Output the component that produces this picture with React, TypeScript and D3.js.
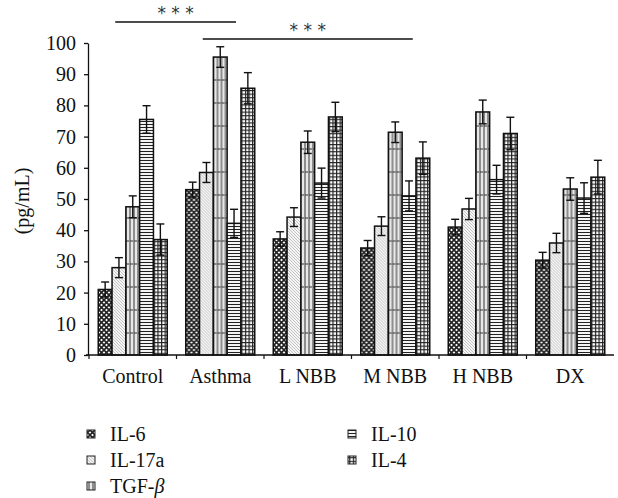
import React, { useEffect, useRef } from 'react';
import * as d3 from 'd3';

const categories = ['Control', 'Asthma', 'L NBB', 'M NBB', 'H NBB', 'DX'];
const seriesNames = ['IL-6', 'IL-17a', 'TGF-β', 'IL-10', 'IL-4'];

// means per series, in category order
const il6 = [21, 53, 37.2, 34.3, 41, 30.4];
const il17a = [28, 58.5, 44.2, 41.3, 46.8, 35.9];
const tgfb = [47.5, 95.5, 68.2, 71.4, 77.9, 53.2];
const il10 = [75.5, 42.2, 55.1, 51, 56.2, 50.3];
const il4 = [37, 85.5, 76.3, 63.1, 71, 57];

// error (±)
const il6Err = [2.4, 2.4, 2.3, 2.4, 2.5, 2.5];
const il17aErr = [3.2, 3.2, 3, 3, 3.4, 3.1];
const tgfbErr = [3.5, 3.3, 3.6, 3.3, 3.8, 3.6];
const il10Err = [4.4, 4.5, 4.8, 4.8, 4.6, 4.9];
const il4Err = [5, 5, 4.7, 5.2, 5.2, 5.4];

const yTicks = [0, 10, 20, 30, 40, 50, 60, 70, 80, 90, 100];

// significance brackets: [from category, to category, label]
const sigPairs: [string, string, string][] = [
  ['Control', 'Asthma', '* * *'],
  ['Asthma', 'M NBB', '* * *'],
];

const FONT = '"Liberation Serif", "Times New Roman", serif';

const App = () => {
  const ref = useRef<SVGSVGElement>(null);

  useEffect(() => {
    const svg = d3.select(ref.current);
    svg.selectAll('*').remove();

    const margin = { top: 43, left: 89, right: 4, bottom: 143 };
    const width = 618;
    const height = 498;
    const y0 = height - margin.bottom;

    const means = [il6, il17a, tgfb, il10, il4];
    const errs = [il6Err, il17aErr, tgfbErr, il10Err, il4Err];

    const x0 = d3.scaleBand().domain(categories).range([margin.left, width - margin.right]).padding(0);
    const x1 = d3.scaleBand().domain(seriesNames).range([0, x0.bandwidth()]).paddingInner(0).paddingOuter(0.67);
    const y = d3.scaleLinear().domain([0, 100]).range([y0, margin.top]);

    // patterns
    const defs = svg.append('defs');
    const mk = (id: string, size: number, bg: string) => {
      const p = defs.append('pattern').attr('id', id).attr('patternUnits', 'userSpaceOnUse')
        .attr('width', size).attr('height', size);
      p.append('rect').attr('width', size).attr('height', size).attr('fill', bg);
      return p;
    };
    // IL-6 diamond cross
    const p0 = mk('pat0', 5, '#fff');
    p0.append('path').attr('d', 'M0,0L5,5M5,0L0,5').attr('stroke', '#222').attr('stroke-width', 1.6);
    // IL-17a light diagonal
    const p1 = mk('pat1', 3, '#f4f4f4');
    p1.append('path').attr('d', 'M0,0L3,3M-1,2L1,4M2,-1L4,1').attr('stroke', '#b0b0b0').attr('stroke-width', 0.7);
    // TGF-b vertical lines with dashes
    const p2 = defs.append('pattern').attr('id', 'pat2').attr('patternUnits', 'userSpaceOnUse')
      .attr('width', 4).attr('height', 23);
    p2.append('rect').attr('width', 4).attr('height', 23).attr('fill', '#e8e8e8');
    p2.append('path').attr('d', 'M1,0V23').attr('stroke', '#333').attr('stroke-width', 1);
    p2.append('path').attr('d', 'M1,11H4').attr('stroke', '#333').attr('stroke-width', 1);
    // IL-10 horizontal lines
    const p3 = mk('pat3', 3, '#fff');
    p3.append('path').attr('d', 'M0,1.5H3').attr('stroke', '#222').attr('stroke-width', 1.1);
    // IL-4 grid
    const p4 = mk('pat4', 3.6, '#fff');
    p4.append('path').attr('d', 'M0,0.6H3.6M0.6,0V3.6').attr('stroke', '#222').attr('stroke-width', 1.2);

    // bars
    const groups = svg.append('g').selectAll('g').data(categories).join('g')
      .attr('transform', (d) => `translate(${x0(d)},0)`);

    seriesNames.forEach((s, si) => {
      groups.append('rect')
        .attr('x', () => x1(s)!)
        .attr('y', (_, ci) => y(means[si][ci]))
        .attr('width', x1.bandwidth())
        .attr('height', (_, ci) => y0 - y(means[si][ci]))
        .attr('fill', `url(#pat${si})`)
        .attr('stroke', '#111')
        .attr('stroke-width', 1.5);
    });

    // error bars
    seriesNames.forEach((s, si) => {
      const cx = x1(s)! + x1.bandwidth() / 2;
      const eb = groups.append('g').attr('stroke', '#111').attr('stroke-width', 1.4);
      eb.append('line').attr('x1', cx).attr('x2', cx)
        .attr('y1', (_, ci) => y(means[si][ci] + errs[si][ci]))
        .attr('y2', (_, ci) => y(means[si][ci] - errs[si][ci]));
      eb.append('line').attr('x1', cx - 4).attr('x2', cx + 4)
        .attr('y1', (_, ci) => y(means[si][ci] + errs[si][ci]))
        .attr('y2', (_, ci) => y(means[si][ci] + errs[si][ci]));
      eb.append('line').attr('x1', cx - 4).attr('x2', cx + 4)
        .attr('y1', (_, ci) => y(means[si][ci] - errs[si][ci]))
        .attr('y2', (_, ci) => y(means[si][ci] - errs[si][ci]));
    });

    // y axis
    const yAxis = svg.append('g').attr('transform', `translate(${margin.left - 1},0)`)
      .call(d3.axisLeft(y).tickValues(yTicks).tickSize(4).tickSizeOuter(0).tickPadding(8));
    yAxis.selectAll('path,line').attr('stroke', '#111').attr('stroke-width', 1.3);
    yAxis.selectAll('text').attr('font-family', FONT).attr('font-size', 20).attr('fill', '#111');

    // x axis
    const xAxis = svg.append('g').attr('transform', `translate(0,${y0})`)
      .call(d3.axisBottom(x0).tickSize(0).tickSizeOuter(0).tickPadding(14));
    xAxis.select('.domain').attr('stroke', '#111').attr('stroke-width', 1.3)
      .attr('d', `M${margin.left - 3},0H${width - margin.right}`);
    xAxis.selectAll('text').attr('font-family', FONT).attr('font-size', 20).attr('fill', '#111');
    xAxis.selectAll('.bound').data(categories).join('line').attr('class', 'bound')
      .attr('x1', (d) => x0(d)!).attr('x2', (d) => x0(d)!)
      .attr('y1', 0).attr('y2', 4).attr('stroke', '#111').attr('stroke-width', 1.2);

    // y label
    svg.append('text')
      .attr('transform', `translate(29,${(y0 + margin.top) / 2 + 2}) rotate(-90)`)
      .attr('text-anchor', 'middle')
      .attr('font-family', FONT).attr('font-size', 20).attr('fill', '#111')
      .text('(pg/mL)');

    // significance
    sigPairs.forEach(([a, b, label], i) => {
      const xa = x0(a)! + x0.bandwidth() * 0.3;
      const xb = x0(b)! + x0.bandwidth() * (i === 0 ? 0.68 : 0.7);
      const ly = i === 0 ? 22 : 39;
      svg.append('line').attr('x1', xa).attr('x2', xb).attr('y1', ly).attr('y2', ly)
        .attr('stroke', '#111').attr('stroke-width', 1.3);
      svg.append('text').attr('x', (xa + xb) / 2).attr('y', ly - 3)
        .attr('text-anchor', 'middle').attr('font-family', '"DejaVu Sans", sans-serif')
        .attr('font-size', 17).attr('fill', '#333').text(label);
    });

    // legend
    const legendPos = [
      [91, 434], [91, 460], [91, 486], [352, 434], [352, 460],
    ];
    seriesNames.forEach((s, si) => {
      const [lx, ly] = legendPos[si];
      svg.append('rect').attr('x', lx - 4).attr('y', ly - 4).attr('width', 8).attr('height', 8)
        .attr('fill', `url(#pat${si})`).attr('stroke', '#222').attr('stroke-width', 1);
      const t = svg.append('text').attr('x', lx + 19).attr('y', ly + 7)
        .attr('font-family', FONT).attr('font-size', 20).attr('fill', '#111');
      if (s === 'TGF-β') {
        t.append('tspan').text('TGF-');
        t.append('tspan').attr('font-style', 'italic').text('β');
      } else {
        t.text(s);
      }
    });
  }, []);

  return (
    <svg ref={ref} width={618} height={498}
      style={{ position: 'absolute', left: 0, top: 0, background: '#fff' }} />
  );
};

export default App;
